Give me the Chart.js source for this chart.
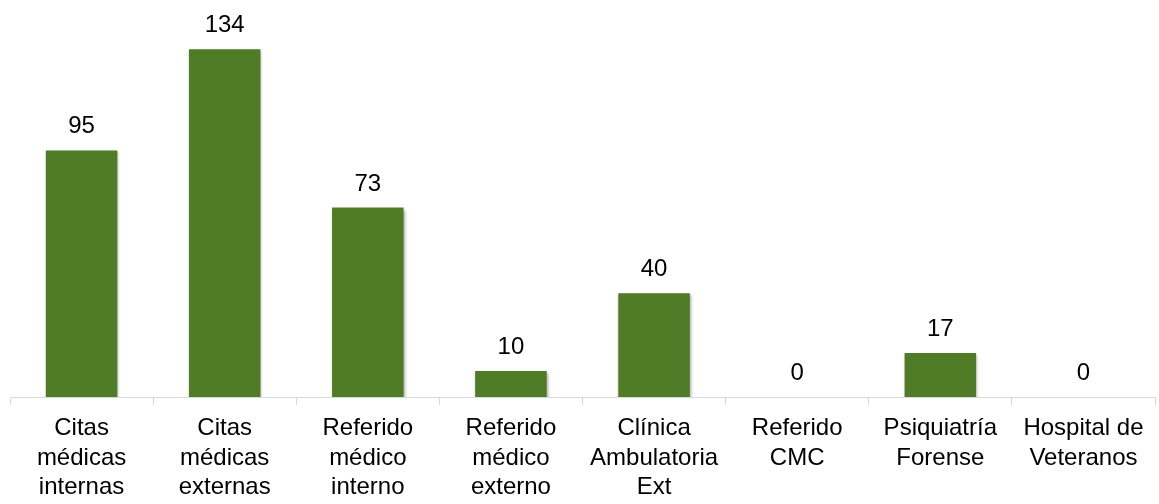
<!DOCTYPE html>
<html>
<head>
<meta charset="utf-8">
<script src="https://cdn.jsdelivr.net/npm/chart.js@4"></script>
<style>
html,body{margin:0;padding:0;background:#fff;}
#wrap{width:1159px;height:504px;}
</style>
</head>
<body>
<div id="wrap"><canvas id="c" width="1159" height="504"></canvas></div>
<script>
const categories = [
  ["Citas", "médicas", "internas"],
  ["Citas", "médicas", "externas"],
  ["Referido", "médico", "interno"],
  ["Referido", "médico", "externo"],
  ["Clínica", "Ambulatoria", "Ext"],
  ["Referido", "CMC"],
  ["Psiquiatría", "Forense"],
  ["Hospital de", "Veteranos"]
];
const values = [95, 134, 73, 10, 40, 0, 17, 0];

const FONT = '"Liberation Sans", Arial, sans-serif';

const shadowPlugin = {
  id: 'shadow',
  beforeDatasetsDraw(chart) {
    const ctx = chart.ctx;
    ctx.save();
    ctx.shadowColor = 'rgba(0,0,0,0.35)';
    ctx.shadowBlur = 3;
    ctx.shadowOffsetX = 1;
    ctx.shadowOffsetY = 2;
  },
  afterDatasetsDraw(chart) {
    chart.ctx.restore();
  }
};

const valueLabels = {
  id: 'valueLabels',
  afterDraw(chart) {
    const ctx = chart.ctx;
    const meta = chart.getDatasetMeta(0);
    ctx.save();
    ctx.font = '24px ' + FONT;
    ctx.fillStyle = '#000';
    ctx.textAlign = 'center';
    ctx.textBaseline = 'alphabetic';
    meta.data.forEach((bar, i) => {
      ctx.fillText(String(values[i]), bar.x, bar.y - 17);
    });
    ctx.restore();
  }
};

new Chart(document.getElementById('c'), {
  type: 'bar',
  data: {
    labels: categories,
    datasets: [{
      data: values,
      backgroundColor: '#507B27',
      borderWidth: 0,
      barPercentage: 0.5,
      categoryPercentage: 1.0
    }]
  },
  options: {
    responsive: false,
    animation: false,
    devicePixelRatio: 1,
    layout: { padding: { left: 10, right: 4, top: 0, bottom: 0 } },
    plugins: { legend: { display: false }, tooltip: { enabled: false } },
    scales: {
      x: {
        offset: true,
        grid: {
          offset: true,
          drawOnChartArea: false,
          drawTicks: true,
          tickLength: 8,
          color: '#D9D9D9'
        },
        border: { display: true, color: '#D9D9D9', width: 1 },
        ticks: {
          color: '#000',
          padding: 9,
          maxRotation: 0,
          autoSkip: false,
          font: { family: FONT, size: 24, lineHeight: 1.22 }
        },
        afterFit(scale) { scale.height = 107; }
      },
      y: {
        display: false,
        min: 0,
        max: 153
      }
    }
  },
  plugins: [shadowPlugin, valueLabels]
});
</script>
</body>
</html>
